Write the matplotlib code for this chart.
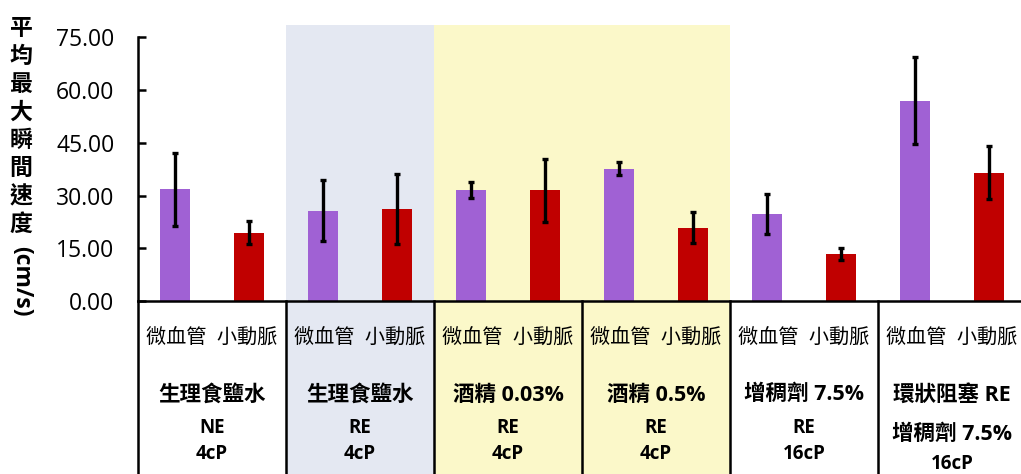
import matplotlib
matplotlib.use("Agg")
import matplotlib.pyplot as plt
from matplotlib.patches import Rectangle
from matplotlib.transforms import blended_transform_factory

plt.rcParams['font.family'] = ['Open Sans', 'Noto Sans CJK TC', 'DejaVu Sans']

# data
groups = ["生理食鹽水\nNE\n4cP", "生理食鹽水\nRE\n4cP", "酒精 0.03%\nRE\n4cP",
          "酒精 0.5%\nRE\n4cP", "增稠劑 7.5%\nRE\n16cP", "環狀阻塞 RE\n增稠劑 7.5%\n16cP"]
vessels = "微血管  小動脈"
capillary = [31.8, 25.7, 31.5, 37.6, 24.7, 57.0]
capillary_err = [10.4, 8.7, 2.3, 1.8, 5.7, 12.4]
arteriole = [19.4, 26.1, 31.5, 20.9, 13.4, 36.5]
arteriole_err = [3.3, 10.0, 8.9, 4.5, 1.8, 7.6]
yticks = [0, 15, 30, 45, 60, 75]
group_shade = [None, "#E4E8F2", "#FBF8C9", "#FBF8C9", None, None]

purple = "#A061D4"
red = "#C00000"

fig = plt.figure(figsize=(10.21, 4.74), dpi=100)
ax = fig.add_axes([138 / 1021, 173 / 474, 888 / 1021, 276 / 474])
ymax = 78.5
ax.set_xlim(0, len(groups))
ax.set_ylim(0, ymax)

# group shading, continued down through the label table
tr = blended_transform_factory(ax.transData, ax.transAxes)
for i, c in enumerate(group_shade):
    if c:
        ax.add_patch(Rectangle((i, -0.7), 1, 1.7, transform=tr, facecolor=c,
                               edgecolor='none', clip_on=False, zorder=0))

xs_c = [i + 0.25 for i in range(len(groups))]
xs_a = [i + 0.75 for i in range(len(groups))]
w = 0.2
ekw = dict(ecolor='black', elinewidth=2.4, capsize=2.5, capthick=2.4)
ax.bar(xs_c, capillary, width=w, color=purple, yerr=capillary_err, error_kw=ekw, zorder=2)
ax.bar(xs_a, arteriole, width=w, color=red, yerr=arteriole_err, error_kw=ekw, zorder=2)

# axes styling
for s in ['top', 'right']:
    ax.spines[s].set_visible(False)
ax.spines['left'].set_bounds(0, 75)
ax.spines['left'].set_linewidth(1.8)
ax.spines['bottom'].set_linewidth(1.8)
ax.set_yticks(yticks)
ax.set_yticklabels([f"{v:.2f}" for v in yticks], fontsize=16.5)
ax.tick_params(axis='y', direction='in', length=6, width=1.8, pad=17)
ax.set_xticks([])

# label table: vertical dividers
for i in range(len(groups) + 1):
    ax.plot([i, i], [0, -0.7], transform=tr, color='black', lw=1.8,
            clip_on=False, zorder=3)

for i, g in enumerate(groups):
    ax.text(i + 0.5, -0.137, vessels, transform=tr, ha='center', va='center',
            fontsize=14.5)
    lines = g.split("\n")
    last = i == len(groups) - 1
    ys = [-0.34, -0.485, -0.59] if last else [-0.34, -0.46, -0.555]
    for j, (line, yy) in enumerate(zip(lines, ys)):
        big = j == 0 or (last and j == 1)
        ax.text(i + 0.5, yy, line, transform=tr, ha='center', va='center',
                fontsize=15.5 if big else 13.5, fontweight='bold')

# vertical y-axis title: stacked characters then rotated unit
title_chars = "平均最大瞬間速度"
for k, ch in enumerate(title_chars):
    fig.text(21 / 1021, 1 - (29 + 28 * k) / 474, ch, ha='center', va='center',
             fontsize=16.5, fontweight='bold')
fig.text(21 / 1021, 1 - 281 / 474, "(cm/s)", ha='center', va='center',
         rotation=270, fontsize=16.5, fontweight='bold')

fig.savefig("out.png", dpi=100)
